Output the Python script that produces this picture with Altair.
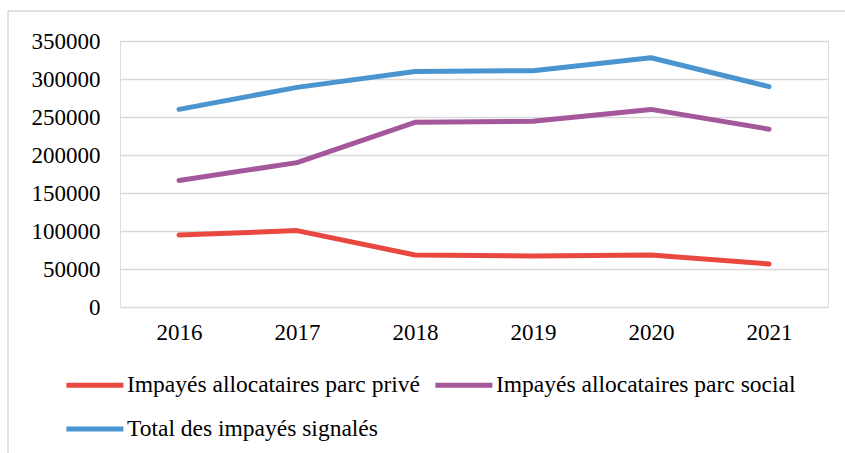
import altair as alt
import pandas as pd

years = ["2016", "2017", "2018", "2019", "2020", "2021"]
prive = [94700, 100500, 68400, 67200, 68400, 56600]
social = [166500, 190000, 243000, 244500, 260000, 234000]
total = [260000, 289000, 310000, 311000, 328000, 290000]
series_names = [
    "Impayés allocataires parc privé",
    "Impayés allocataires parc social",
    "Total des impayés signalés",
]
colors = ["#E8483F", "#A5579B", "#4A95CF"]
y_ticks = [0, 50000, 100000, 150000, 200000, 250000, 300000, 350000]

rows = []
for name, vals in zip(series_names, [prive, social, total]):
    for yr, v in zip(years, vals):
        rows.append({"year": yr, "value": v, "series": name})
df = pd.DataFrame(rows)

FONT = "Liberation Serif"
AX = 23
LG = 23.5

border = alt.Chart(pd.DataFrame({"a": [0]})).mark_rect(
    fill=None, stroke="#d9d9d9", strokeWidth=1.5
).encode(
    x=alt.value(-112), x2=alt.value(735),
    y=alt.value(-30), y2=alt.value(420),
)

lines = alt.Chart(df).mark_line(strokeWidth=5, strokeCap="round", strokeJoin="round").encode(
    x=alt.X("year:O", sort=years,
            scale=alt.Scale(paddingInner=0, paddingOuter=0),
            axis=alt.Axis(title=None, labelAngle=0, ticks=False, domain=False,
                          grid=False,
                          labelPadding=14, labelFontSize=AX, labelFont=FONT,
                          labelColor="#000000")),
    y=alt.Y("value:Q", scale=alt.Scale(domain=[0, 350000], nice=False),
            axis=alt.Axis(title=None, values=y_ticks, ticks=False, domain=False,
                          labelPadding=20, labelFontSize=AX, labelFont=FONT,
                          labelColor="#000000", gridColor="#d9d9d9",
                          gridWidth=1.5, format="d")),
    color=alt.Color("series:N",
                    scale=alt.Scale(domain=series_names, range=colors),
                    legend=alt.Legend(title=None, orient="none", legendX=-22,
                                      legendY=330, columns=2, columnPadding=5,
                                      direction="horizontal",
                                      rowPadding=18, symbolType="M-4,0H1",
                                      symbolSize=520, symbolStrokeWidth=5,
                                      labelFontSize=LG, labelFont=FONT,
                                      labelColor="#000000", labelOffset=1,
                                      labelLimit=500)),
    order=alt.Order("year:O"),
)

chart = alt.layer(border, lines).properties(
    width=708, height=266,
    autosize=alt.AutoSizeParams(type="none"),
    padding={"left": 120, "top": 41, "right": 17, "bottom": 146},
).configure_view(stroke=None).configure(background="white")

chart.save("out.html", embed_options={"renderer": "svg", "actions": False})
